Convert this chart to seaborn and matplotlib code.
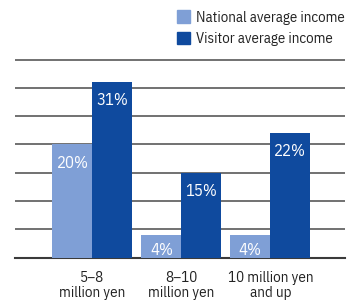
import matplotlib
matplotlib.use("Agg")
import matplotlib.pyplot as plt
import pandas as pd
import seaborn as sns

# data
categories = ["5\u20138\nmillion yen", "8\u201310\nmillion yen", "10 million yen\nand up"]
national = [20, 4, 4]
visitor = [31, 15, 22]
series = ["National average income", "Visitor average income"]
colors = ["#7f9fd6", "#0f4a9e"]

df = pd.DataFrame({
    "bracket": categories * 2,
    "share": national + visitor,
    "series": [series[0]] * 3 + [series[1]] * 3,
})

sns.set_style("white")
plt.rcParams["font.family"] = ["IBM Plex Sans Condensed", "Liberation Sans", "DejaVu Sans"]

fig = plt.figure(figsize=(3.5, 3.0), dpi=100)
ax = fig.add_axes([0.043, 0.141, 0.943, 0.666])

sns.barplot(data=df, x="bracket", y="share", hue="series", palette=colors,
            saturation=1, width=0.9, linewidth=0, ax=ax, zorder=3, legend=False)

ax.set_ylim(0, 35.3)
ax.set_xlim(-0.87, 2.84)
ax.set_yticks([5, 10, 15, 20, 25, 30, 35])
ax.grid(axis="y", color="#4a4a4a", linewidth=1.1, zorder=0)
ax.set_axisbelow(True)
for s in ["top", "left", "right"]:
    ax.spines[s].set_visible(False)
ax.spines["bottom"].set_color("#3a3a3a")
ax.spines["bottom"].set_linewidth(1.5)
ax.tick_params(axis="y", left=False, labelleft=False)
ax.tick_params(axis="x", bottom=False, labelsize=10.8, colors="#222222", pad=6)
for t in ax.get_xticklabels():
    t.set_linespacing(1.1)
ax.set_xlabel("")
ax.set_ylabel("")

# white value labels inside the bars
for bar in ax.patches:
    h = bar.get_height()
    if h <= 0:
        continue
    off = min(3.2, 0.65 * h)
    ax.text(bar.get_x() + bar.get_width() / 2, h - off, f"{h:.0f}%",
            ha="center", va="center", color="white", fontsize=12, zorder=4)

handles = [plt.Rectangle((0, 0), 1, 1, color=c) for c in colors]
fig.legend(handles, series, loc="upper right", bbox_to_anchor=(1.015, 1.0),
           frameon=False, fontsize=10.7, handlelength=0.9, handleheight=0.95,
           handletextpad=0.4, labelspacing=0.45, borderaxespad=0.3,
           labelcolor="#222222")

fig.savefig("out.png", dpi=100)
